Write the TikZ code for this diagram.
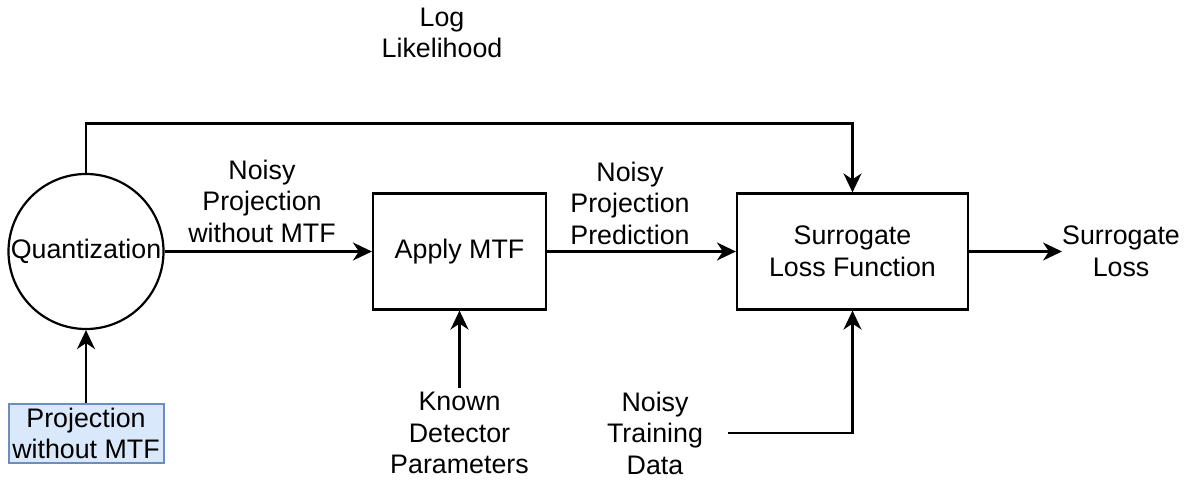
\documentclass[tikz,border=0pt]{standalone}
\usepackage{fontspec}
\setmainfont{Liberation Sans}
\usetikzlibrary{arrows.meta}
\definecolor{projfill}{HTML}{DAE8FC}
\definecolor{projdraw}{HTML}{6C8EBF}
\begin{document}
\begin{tikzpicture}[x=1pt,y=-1pt,
  every node/.style={font=\fontsize{26.8}{31.5}\selectfont, align=center},
  conn/.style={line width=2.2pt},
  arr/.style={conn, -{Stealth[length=19pt,width=18pt,inset=6pt]}},
  blk/.style={draw, line width=2.2pt, rectangle, inner sep=0pt, minimum height=116pt},
  lbl/.style={inner sep=1pt}
]
\useasboundingbox (0,0) rectangle (1192,482);
\node[draw, line width=2.2pt, circle, minimum size=155pt, inner sep=0pt] (quant) at (86,251.5) {Quantization};
\node[draw=projdraw, fill=projfill, line width=2pt, rectangle, inner sep=0pt,
      minimum width=155pt, minimum height=59pt] (proj) at (86,433.5) {Projection\\without MTF};
\node[blk, minimum width=173pt] (mtf) at (459.5,251.5) {Apply MTF};
\node[blk, minimum width=231pt] (surr) at (852.5,251.5) {Surrogate\\Loss Function};
\node[lbl, inner sep=0pt, anchor=west] (out) at (1062,251.5) {Surrogate\\Loss};
\node[lbl] (l1) at (262,201) {Noisy\\Projection\\without MTF};
\node[lbl] (l2) at (630,203) {Noisy\\Projection\\Prediction};
\node[lbl] (l3) at (442,33) {Log\\Likelihood};
\node[lbl, inner sep=4pt] (known) at (459.5,433) {Known\\Detector\\Parameters};
\node[lbl, minimum width=146pt] (train) at (655,433) {Noisy\\Training\\Data};
\coordinate (top) at (86,123.5);

\draw[arr] (proj.north) -- (quant.south);
\draw[arr] (quant.east) -- (mtf.west);
\draw[arr] (mtf.east) -- (surr.west);
\draw[arr] (surr.east) -- (out.west);
\draw[arr] (quant.north) -- (top) -| (surr.north);
\draw[arr] (known.north) -- (mtf.south);
\draw[arr] (train.east) -| (surr.south);
\end{tikzpicture}
\end{document}
